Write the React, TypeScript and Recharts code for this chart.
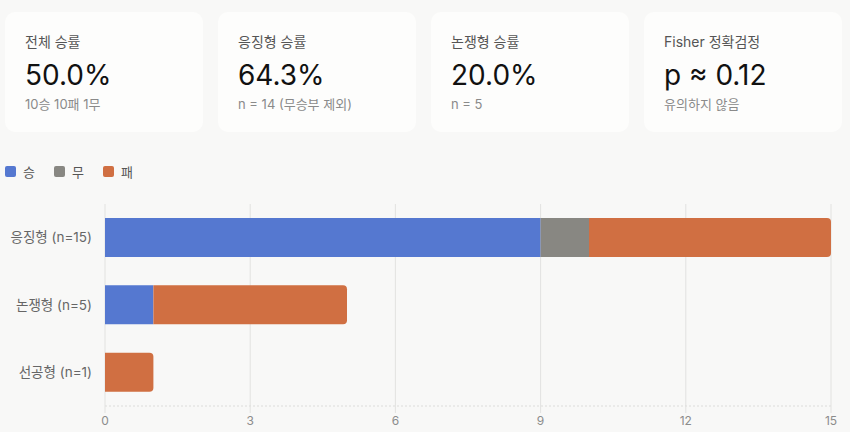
import { BarChart, Bar, XAxis, YAxis, CartesianGrid } from 'recharts';

// 유형별 승/무/패 (stacked horizontal bars) + 요약 카드 4개
const categories = ['응징형 (n=15)', '논쟁형 (n=5)', '선공형 (n=1)'];
const wins = [9, 1, 0];
const draws = [1, 0, 0];
const losses = [5, 4, 1];
const xTicks = [0, 3, 6, 9, 12, 15];

const cardLabels = ['전체 승률', '응징형 승률', '논쟁형 승률', 'Fisher 정확검정'];
const cardValues = ['50.0%', '64.3%', '20.0%', 'p ≈ 0.12'];
const cardNotes = ['10승 10패 1무', 'n = 14 (무승부 제외)', 'n = 5', '유의하지 않음'];

const SERIES = [
  { key: 'win', name: '승', color: '#5578d0' },
  { key: 'draw', name: '무', color: '#888782' },
  { key: 'loss', name: '패', color: '#d06f42' },
];

const FONT = "Inter, 'Noto Sans CJK KR', 'Noto Sans', sans-serif";
const BG = '#f8f8f7';
const GRID = '#e2e2e0';

const data = categories.map((name, i) => ({ name, win: wins[i], draw: draws[i], loss: losses[i] }));

function StatCard({ i }: { i: number }) {
  return (
    <div style={{
      position: 'absolute', left: 5 + i * 213, top: 12, width: 198, height: 120,
      background: '#fdfdfc', borderRadius: 10, boxSizing: 'border-box', padding: '20px 0 0 20px',
    }}>
      <div style={{ fontSize: 14, lineHeight: '20px', color: '#555' }}>{cardLabels[i]}</div>
      <div style={{ fontSize: 28, lineHeight: '28px', marginTop: 9, color: '#111', fontWeight: 400 }}>{cardValues[i]}</div>
      <div style={{ fontSize: 13, lineHeight: '18px', marginTop: 6, color: '#8a8a8a' }}>{cardNotes[i]}</div>
    </div>
  );
}

export default function App() {
  return (
    <div style={{ position: 'fixed', left: 0, top: 0, width: 850, height: 432, background: BG, fontFamily: FONT, overflow: 'hidden' }}>
      {cardLabels.map((_, i) => <StatCard key={i} i={i} />)}

      <div style={{ position: 'absolute', left: 5, top: 162, display: 'flex', alignItems: 'center', fontSize: 13, color: '#555' }}>
        {SERIES.map((s) => (
          <div key={s.key} style={{ display: 'flex', alignItems: 'center', width: 49, height: 18 }}>
            <span style={{ width: 11, height: 11, borderRadius: 2, background: s.color, marginRight: 7 }} />
            <span>{s.name}</span>
          </div>
        ))}
      </div>

      <div style={{ position: 'absolute', left: 0, top: 190 }}>
        <BarChart width={850} height={242} data={data} layout="vertical" barSize={39}
          margin={{ top: 14, right: 19, bottom: 6, left: 0 }}>
          <CartesianGrid horizontal={false} stroke={GRID} />
          <XAxis type="number" domain={[0, 15]} ticks={xTicks} height={20}
            axisLine={{ stroke: '#dcdcda', strokeDasharray: '2 2' }}
            tickLine={{ stroke: GRID }} tickSize={7} tickMargin={3}
            tick={{ fill: '#8c8c8c', fontSize: 12, fontFamily: FONT }} />
          <YAxis type="category" dataKey="name" width={105} axisLine={false} tickLine={false}
            tickSize={0} tickMargin={13} tick={{ fill: '#666', fontSize: 13.5, fontFamily: FONT }} />
          <Bar dataKey="win" name="승" stackId="r" fill={SERIES[0].color} isAnimationActive={false} />
          <Bar dataKey="draw" name="무" stackId="r" fill={SERIES[1].color} isAnimationActive={false} />
          <Bar dataKey="loss" name="패" stackId="r" fill={SERIES[2].color} radius={[0, 4, 4, 0]} isAnimationActive={false} />
        </BarChart>
      </div>
    </div>
  );
}
